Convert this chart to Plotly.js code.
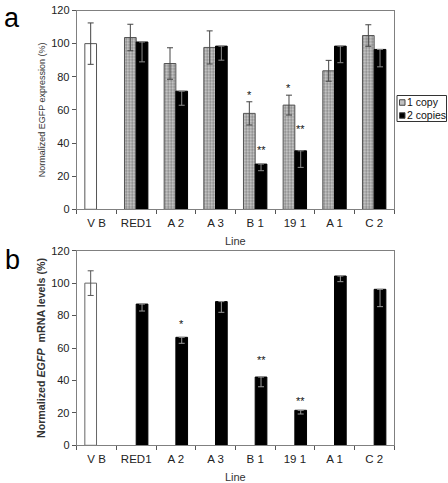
<!DOCTYPE html>
<html><head><meta charset="utf-8">
<script src="https://cdn.plot.ly/plotly-3.0.1.min.js"></script>
<style>html,body{margin:0;padding:0;background:#fff}#chart{width:448px;height:483px}</style>
</head><body><div id="chart"></div>
<script>
// ---- data ----
const categories = ['V B','RED1','A 2','A 3','B 1','19 1','A 1','C 2'];
// panel a: protein (EGFP expression)
const aVector = [100, null, null, null, null, null, null, null];
const aVectorErr = [12.5, null, null, null, null, null, null, null];
const aOneCopy = [null, 103.7, 88, 97.7, 57.9, 62.9, 83.6, 104.9];
const aOneCopyErr = [null, 8, 9.5, 10, 7, 6, 6.3, 6.5];
const aTwoCopies = [null, 101, 71.3, 98.5, 27.3, 35.3, 98.5, 96.5];
const aTwoCopiesErr = [null, 12, 8.5, 8.5, 4, 10, 10, 10.5];
// panel b: mRNA levels
const bVector = [100, null, null, null, null, null, null, null];
const bVectorErr = [7.6, null, null, null, null, null, null, null];
const bLevels = [null, 87.1, 66.6, 88.6, 42.1, 21.6, 104.4, 96.2];
const bLevelsErr = [null, 4.3, 3.7, 6.6, 6, 2.3, 3.5, 10.7];
// significance marks: [category index, slot (-1 left / +1 right), y, text]
const aStars = [[4,-1,69,'*'],[5,-1,73,'*'],[4,1,35.5,'**'],[5,1,48.5,'**']];
const bStars = [[2,1,75,'*'],[4,1,52.5,'**'],[5,1,27.5,'**']];
const yTicks = [0,20,40,60,80,100,120];

const W = 0.295;
const font = 'Liberation Sans, Arial, sans-serif';

function bar(y, err, xa, ya, opts) {
  return Object.assign({
    type:'bar', x:categories, y:y, xaxis:xa, yaxis:ya, width:W, showlegend:false,
    hoverinfo:'skip'
  }, opts(err));
}

const data = [
  bar(aVector, aVectorErr, 'x', 'y', e => ({offset:-W,
    marker:{color:'#ffffff', line:{color:'#555', width:1}},
    error_y:{type:'data', array:e, color:'#444', thickness:1, width:3}})),
  bar(aOneCopy, aOneCopyErr, 'x', 'y', e => ({offset:-W, name:'1 copy',
    marker:{color:'#c4c4c4', line:{color:'#555', width:1},
      pattern:{shape:'.', fgcolor:'#7c7c7c', bgcolor:'#d2d2d2', size:3, solidity:0.45}},
    error_y:{type:'data', array:e, color:'#444', thickness:1, width:3}})),
  bar(aTwoCopies, aTwoCopiesErr, 'x', 'y', e => ({offset:0, name:'2 copies',
    marker:{color:'#000000', line:{color:'#000', width:1}},
    error_y:{type:'data', symmetric:false, array:e.map(()=>0), arrayminus:e, color:'#8a8a8a', thickness:1, width:3}})),
  bar(bVector, bVectorErr, 'x2', 'y2', e => ({offset:-W,
    marker:{color:'#ffffff', line:{color:'#666', width:1}},
    error_y:{type:'data', array:e, color:'#555', thickness:1, width:3}})),
  bar(bLevels, bLevelsErr, 'x2', 'y2', e => ({offset:0,
    marker:{color:'#000000', line:{color:'#000', width:1}},
    error_y:{type:'data', symmetric:false, array:e.map(()=>0), arrayminus:e, color:'#9a9a9a', thickness:1, width:3}})),
];

const xDom = [76.7/448, 394/448];
const axX = (anchor) => ({
  domain:xDom, anchor:anchor, type:'category', range:[-0.5,7.5],
  showline:true, mirror:true, linecolor:'#808080', linewidth:1,
  ticks:'outside', tickson:'boundaries', ticklen:4, tickcolor:'#555', tickangle:0, ticklabelstandoff:3,
  tickfont:{family:font, size:11.5, color:'#222'}, showgrid:false, automargin:false,
  title:{text:'Line', font:{family:font, size:11, color:'#333'}, standoff:9}
});
const axY = (anchor, dom, title, tsize) => ({
  domain:dom, anchor:anchor, range:[0,120], tickvals:yTicks,
  showline:true, mirror:true, linecolor:'#808080', linewidth:1,
  ticks:'outside', ticklen:4, tickcolor:'#555', showgrid:false, zeroline:false,
  tickfont:{family:font, size:11, color:'#222'}, automargin:false,
  title:{text:title, font:{family:font, size:tsize, color:'#333'}, standoff:3}
});

const annotations = [];
aStars.forEach(s => annotations.push({xref:'x', yref:'y', x:s[0]+s[1]*W/2, y:s[2], text:s[3],
  showarrow:false, font:{family:font, size:11, color:'#111'}}));
bStars.forEach(s => annotations.push({xref:'x2', yref:'y2', x:s[0]+s[1]*W/2, y:s[2], text:s[3],
  showarrow:false, font:{family:font, size:11, color:'#111'}}));
annotations.push({xref:'paper', yref:'paper', x:2/448, y:1-1/483, xanchor:'left', yanchor:'top',
  text:'a', showarrow:false, font:{family:font, size:27, color:'#000'}});
annotations.push({xref:'paper', yref:'paper', x:3/448, y:1-243/483, xanchor:'left', yanchor:'top',
  text:'b', showarrow:false, font:{family:font, size:27, color:'#000'}});
// legend (drawn manually to match compact box)
const legendItems = [['1 copy','#c0c0c0'],['2 copies','#000000']];
const shapes = [{type:'rect', xref:'paper', yref:'paper', x0:397/448, x1:446.5/448, y0:1-121.5/483, y1:1-95.5/483,
  line:{color:'#333', width:1}, fillcolor:'rgba(0,0,0,0)'}];
legendItems.forEach((it, i) => {
  const cy = 102.5 + i*13;
  shapes.push({type:'rect', xref:'paper', yref:'paper', x0:399.5/448, x1:405/448, y0:1-(cy+2.75)/483, y1:1-(cy-2.75)/483,
    line:{color:'#444', width:1}, fillcolor:it[1]});
  annotations.push({xref:'paper', yref:'paper', x:405.5/448, y:1-cy/483, xanchor:'left', yanchor:'middle',
    text:it[0], showarrow:false, borderpad:0, font:{family:font, size:10.5, color:'#111'}});
});

const layout = {
  width:448, height:483, margin:{l:0,r:0,t:0,b:0}, paper_bgcolor:'#fff', plot_bgcolor:'#fff',
  barmode:'overlay', showlegend:false,
  xaxis: axX('y'),
  yaxis: axY('x', [1-209.3/483, 1-10.5/483], 'Normalized EGFP expression (%)', 9),
  xaxis2: axX('y2'),
  yaxis2: axY('x2', [1-445.3/483, 1-250.7/483], '<b>Normalized <i>EGFP</i>  mRNA levels (%)</b>', 10.7),
  annotations: annotations, shapes: shapes
};
Plotly.newPlot('chart', data, layout, {staticPlot:true, displayModeBar:false});
</script></body></html>
